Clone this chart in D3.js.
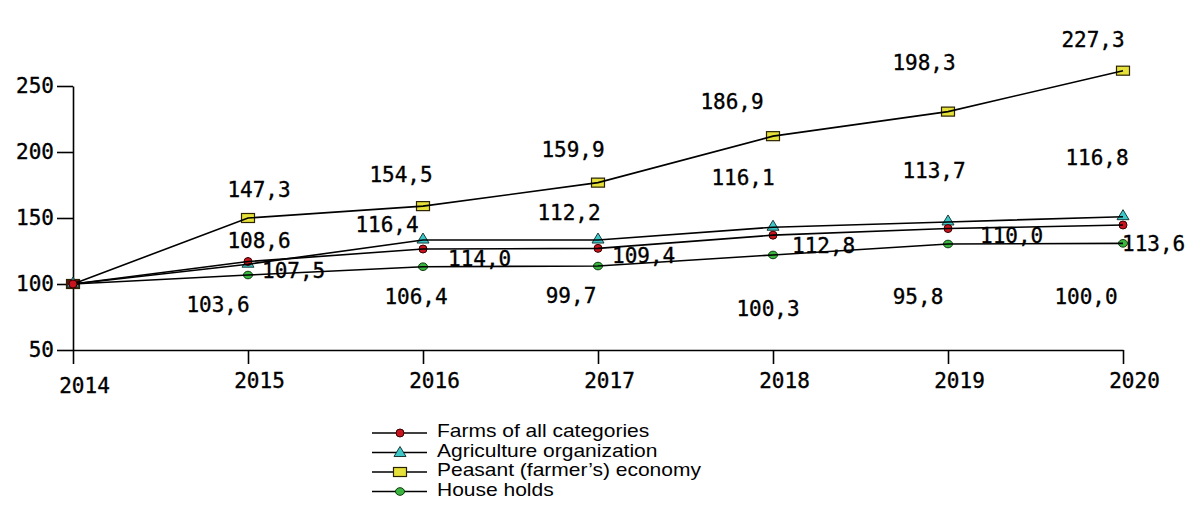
<!DOCTYPE html>
<html>
<head>
<meta charset="utf-8">
<script src="https://cdn.jsdelivr.net/npm/d3@7"></script>
<style>
  html, body { margin: 0; padding: 0; background: #fff; }
  svg { display: block; }
</style>
</head>
<body>
<div id="chart"></div>
<script>
/* global d3 */

const years = [2014, 2015, 2016, 2017, 2018, 2019, 2020];
const yTicks = [50, 100, 150, 200, 250];

// plotted values
const farms = [100, 117, 126.5, 127, 137, 142, 144.7];
const agri = [100, 115, 133.3, 133.3, 143, 147, 151];
const peasant = [100, 150, 159, 176.8, 212, 230.6, 261.6];
const house = [100, 106.8, 113.1, 113.6, 122, 130.3, 130.8];

// annotation texts, 2015..2020
const farmsLabels = ['107,5', '114,0', '109,4', '112,8', '110,0', '113,6'];
const agriLabels = ['108,6', '116,4', '112,2', '116,1', '113,7', '116,8'];
const peasantLabels = ['147,3', '154,5', '159,9', '186,9', '198,3', '227,3'];
const houseLabels = ['103,6', '106,4', '99,7', '100,3', '95,8', '100,0'];

const legendNames = ['Farms of all categories', 'Agriculture organization', 'Peasant (farmer\u2019s) economy', 'House holds'];

// label placement relative to its point (layout, not data)
const labelOffsets = {
  peasant: [[11, -21], [-22, -24], [-25, -26], [-41, -27], [-24, -42], [-30, -24]],
  agri: [[11, -16], [-36, -8], [-29, -20], [-30, -42], [-14, -44], [-26, -52]],
  farms: [[14, 16], [25, 17], [14, 15], [19, 18], [32, 14], [-1, 26]],
  house: [[-30, 37], [-7, 37], [-27, 37], [-5, 61], [-30, 60], [-37, 61]],
};

const W = 1188;
const H = 517;
const numFont = '"DejaVu Sans Mono", monospace';

const svg = d3.select('#chart').append('svg').attr('width', W).attr('height', H);

const x = d3.scaleLinear().domain([2014, 2020]).range([73, 1123]);
const y = d3.scaleLinear().domain([50, 250]).range([350, 86]);

// axes
const yAxis = svg.append('g')
  .attr('transform', 'translate(73,0)')
  .call(d3.axisLeft(y).tickValues(yTicks).tickSize(16).tickSizeOuter(0).tickPadding(3).tickFormat(d3.format('d')));
yAxis.selectAll('text')
  .style('font-family', numFont).style('font-size', '21px')
  .attr('fill', '#000').attr('stroke', '#000').attr('stroke-width', 0.35);

const xAxis = svg.append('g')
  .attr('transform', 'translate(0,350)')
  .call(d3.axisBottom(x).tickValues(years).tickSize(14).tickSizeOuter(0).tickPadding(8).tickFormat(d3.format('d')));
xAxis.selectAll('text')
  .style('font-family', numFont).style('font-size', '21px')
  .attr('fill', '#000').attr('stroke', '#000').attr('stroke-width', 0.35)
  .attr('dx', 11)
  .attr('dy', d => (d === 2014 ? '1.02em' : '0.76em'));

svg.selectAll('.domain, .tick line').attr('stroke', '#000').attr('stroke-width', 1.6);

const seriesDefs = [
  { key: 'house', values: house, labels: houseLabels, marker: 'circle', fill: '#39b540', anchor: 'middle' },
  { key: 'peasant', values: peasant, labels: peasantLabels, marker: 'square', fill: '#e6e03a', anchor: 'middle' },
  { key: 'agri', values: agri, labels: agriLabels, marker: 'triangle', fill: '#3cc8c8', anchor: 'middle' },
  { key: 'farms', values: farms, labels: farmsLabels, marker: 'dot', fill: '#c8141e', anchor: 'start' },
];

const line = d3.line().x((d, i) => x(years[i])).y(d => y(d));

function drawMarker(g, type, fill, cx, cy) {
  if (type === 'square') {
    g.append('rect').attr('x', cx - 6.5).attr('y', cy - 4.5).attr('width', 13).attr('height', 9)
      .attr('fill', fill).attr('stroke', '#2a2200').attr('stroke-width', 1.2);
  } else if (type === 'triangle') {
    g.append('path')
      .attr('d', `M${cx},${cy - 7}L${cx + 6},${cy + 3}L${cx - 6},${cy + 3}Z`)
      .attr('fill', fill).attr('stroke', '#1a3a3a').attr('stroke-width', 1);
  } else if (type === 'dot') {
    g.append('circle').attr('cx', cx).attr('cy', cy).attr('r', 4)
      .attr('fill', fill).attr('stroke', '#3a0000').attr('stroke-width', 1);
  } else {
    g.append('ellipse').attr('cx', cx).attr('cy', cy).attr('rx', 4.5).attr('ry', 3.8)
      .attr('fill', fill).attr('stroke', '#0a3a0a').attr('stroke-width', 1);
  }
}

const markers = svg.append('g');
seriesDefs.forEach((s) => {
  s.values.forEach((v, i) => {
    const fill = (s.key === 'peasant' && i === 0) ? '#5a1410' : s.fill;
    drawMarker(markers, s.marker, fill, x(years[i]), y(v));
  });
});

// lines drawn over the markers
const lines = svg.append('g');
seriesDefs.forEach((s) => {
  lines.append('path')
    .datum(s.values)
    .attr('d', line)
    .attr('fill', 'none')
    .attr('stroke', '#000')
    .attr('stroke-width', 1.6);
});

// redraw the red dot at the common start point on top
drawMarker(svg, 'dot', '#c8141e', x(years[0]), y(farms[0]));

// value annotations
seriesDefs.forEach((s) => {
  const offs = labelOffsets[s.key];
  svg.append('g').selectAll('text')
    .data(s.labels)
    .join('text')
    .attr('x', (d, i) => x(years[i + 1]) + offs[i][0])
    .attr('y', (d, i) => y(s.values[i + 1]) + offs[i][1])
    .attr('text-anchor', s.anchor)
    .style('font-family', numFont)
    .style('font-size', '21px')
    .attr('fill', '#000')
    .attr('stroke', '#000')
    .attr('stroke-width', 0.35)
    .text(d => d);
});

// legend
const legendOrder = ['farms', 'agri', 'peasant', 'house'];
const legend = svg.append('g').attr('transform', 'translate(372,433)');
legendOrder.forEach((key, i) => {
  const s = seriesDefs.find(d => d.key === key);
  const row = legend.append('g').attr('transform', `translate(0,${i * 19.5})`);
  row.append('line').attr('x1', 0).attr('x2', 55).attr('y1', 0).attr('y2', 0)
    .attr('stroke', '#000').attr('stroke-width', 1.6);
  drawMarker(row, s.marker, s.fill, 28, s.marker === 'triangle' ? 1 : 0);
  row.append('g')
    .attr('transform', 'translate(65,0) scale(1.2,1)')
    .append('text')
    .attr('x', 0).attr('y', -2).attr('dy', '0.35em')
    .style('font-family', '"Liberation Sans", Arial, sans-serif')
    .style('font-size', '17.5px')
    .attr('fill', '#000')
    .text(legendNames[i]);
});
</script>
</body>
</html>
